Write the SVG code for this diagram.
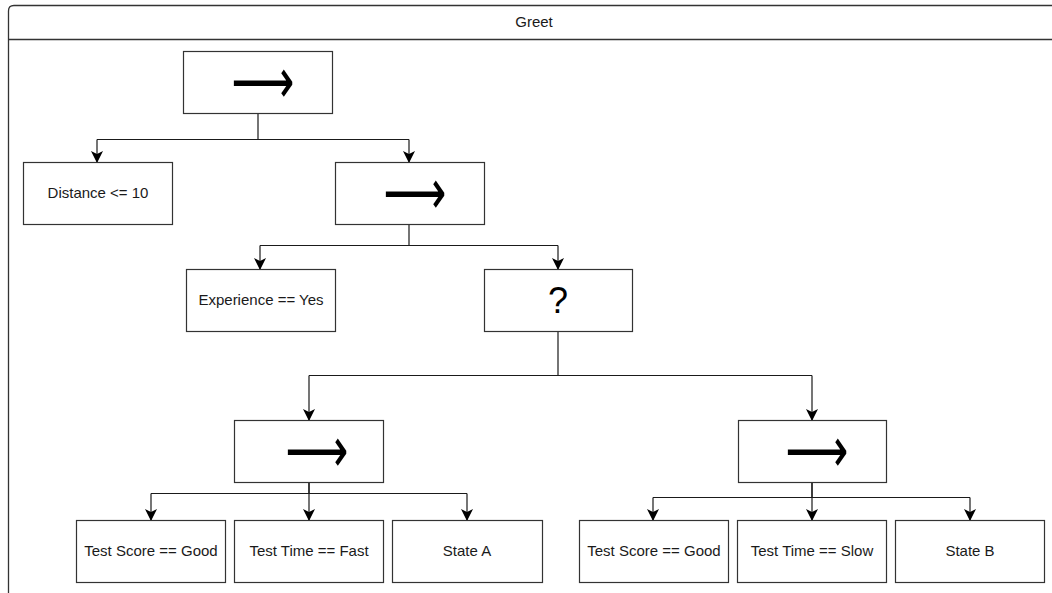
<svg xmlns="http://www.w3.org/2000/svg" width="1052" height="593" viewBox="0 0 1052 593">
  <style>
    .frame { fill: none; stroke: #333; stroke-width: 1.3; }
    .box { fill: #fff; stroke: #333; stroke-width: 1.2; }
    .lbl { font-family: "Liberation Sans", Arial, sans-serif; font-size: 15px; fill: #1a1a1a; text-anchor: middle; dominant-baseline: central; }
    .sym { font-family: "DejaVu Sans", sans-serif; font-size: 44px; fill: #000; text-anchor: middle; dominant-baseline: central; }
    .q { font-family: "Liberation Sans", Arial, sans-serif; font-size: 36px; fill: #000; text-anchor: middle; dominant-baseline: central; }
    .edge { fill: none; stroke: #1a1a1a; stroke-width: 1.2; marker-end: url(#head); }
    .line { fill: none; stroke: #1a1a1a; stroke-width: 1.2; }
  </style>
  <defs>
    <marker id="head" viewBox="0 0 12 14" refX="11" refY="7" markerWidth="12" markerHeight="14" markerUnits="userSpaceOnUse" orient="auto">
      <path d="M0,1 L12,7 L0,13 L3,7 Z" fill="#000"/>
    </marker>
  </defs>

  <rect width="1052" height="593" fill="#fff"/>

  <!-- container frame with title strip -->
  <g id="frame">
    <path class="frame" d="M8.5,593 L8.5,11 Q8.5,5.5 14,5.5 L1052,5.5"/>
    <line class="frame" x1="8.5" y1="39.5" x2="1052" y2="39.5"/>
    <text class="lbl" x="534" y="21">Greet</text>
  </g>

  <!-- connectors -->
  <g id="connectors">
    <path class="line" d="M258,113 V139.5 H97 M258,139.5 H409"/>
    <path class="edge" d="M97,139.5 V162"/>
    <path class="edge" d="M409,139.5 V162"/>

    <path class="line" d="M409,224 V245.5 H260 M409,245.5 H558"/>
    <path class="edge" d="M260,245.5 V269"/>
    <path class="edge" d="M558,245.5 V269"/>

    <path class="line" d="M558,331 V375.5 H309 M558,375.5 H812"/>
    <path class="edge" d="M309,375.5 V420"/>
    <path class="edge" d="M812,375.5 V420"/>

    <path class="line" d="M309,482 V493.5 H151 M309,493.5 H467"/>
    <path class="edge" d="M151,493.5 V520"/>
    <path class="edge" d="M309,482 V520"/>
    <path class="edge" d="M467,493.5 V520"/>

    <path class="line" d="M812,482 V497.5 H653 M812,497.5 H970"/>
    <path class="edge" d="M653,497.5 V520"/>
    <path class="edge" d="M812,482 V520"/>
    <path class="edge" d="M970,497.5 V520"/>
  </g>

  <g id="seq-root">
    <rect class="box" x="183.5" y="51.5" width="149" height="62"/>
    <text class="sym" transform="translate(263,81) scale(1,1.45)">⟶</text>
  </g>
  <g id="cond-distance">
    <rect class="box" x="23.5" y="162.5" width="149" height="62"/>
    <text class="lbl" x="98" y="192">Distance &lt;= 10</text>
  </g>
  <g id="seq-2">
    <rect class="box" x="335.5" y="162.5" width="149" height="62"/>
    <text class="sym" transform="translate(415,192) scale(1,1.45)">⟶</text>
  </g>
  <g id="cond-experience">
    <rect class="box" x="186.5" y="269.5" width="149" height="62"/>
    <text class="lbl" x="261" y="299">Experience == Yes</text>
  </g>
  <g id="selector">
    <rect class="box" x="484.5" y="269.5" width="148" height="62"/>
    <text class="q" x="558" y="300">?</text>
  </g>
  <g id="seq-a">
    <rect class="box" x="234.5" y="420.5" width="149" height="62"/>
    <text class="sym" transform="translate(317,450) scale(1,1.45)">⟶</text>
  </g>
  <g id="seq-b">
    <rect class="box" x="738.5" y="420.5" width="148" height="62"/>
    <text class="sym" transform="translate(817,450) scale(1,1.45)">⟶</text>
  </g>
  <g id="cond-score-a">
    <rect class="box" x="76.5" y="520.5" width="149" height="62"/>
    <text class="lbl" x="151" y="550">Test Score == Good</text>
  </g>
  <g id="cond-time-fast">
    <rect class="box" x="234.5" y="520.5" width="149" height="62"/>
    <text class="lbl" x="309" y="550">Test Time == Fast</text>
  </g>
  <g id="state-a">
    <rect class="box" x="392.5" y="520.5" width="150" height="62"/>
    <text class="lbl" x="467" y="550">State A</text>
  </g>
  <g id="cond-score-b">
    <rect class="box" x="579.5" y="520.5" width="149" height="62"/>
    <text class="lbl" x="654" y="550">Test Score == Good</text>
  </g>
  <g id="cond-time-slow">
    <rect class="box" x="737.5" y="520.5" width="149" height="62"/>
    <text class="lbl" x="812" y="550">Test Time == Slow</text>
  </g>
  <g id="state-b">
    <rect class="box" x="895.5" y="520.5" width="149" height="62"/>
    <text class="lbl" x="970" y="550">State B</text>
  </g>
</svg>
